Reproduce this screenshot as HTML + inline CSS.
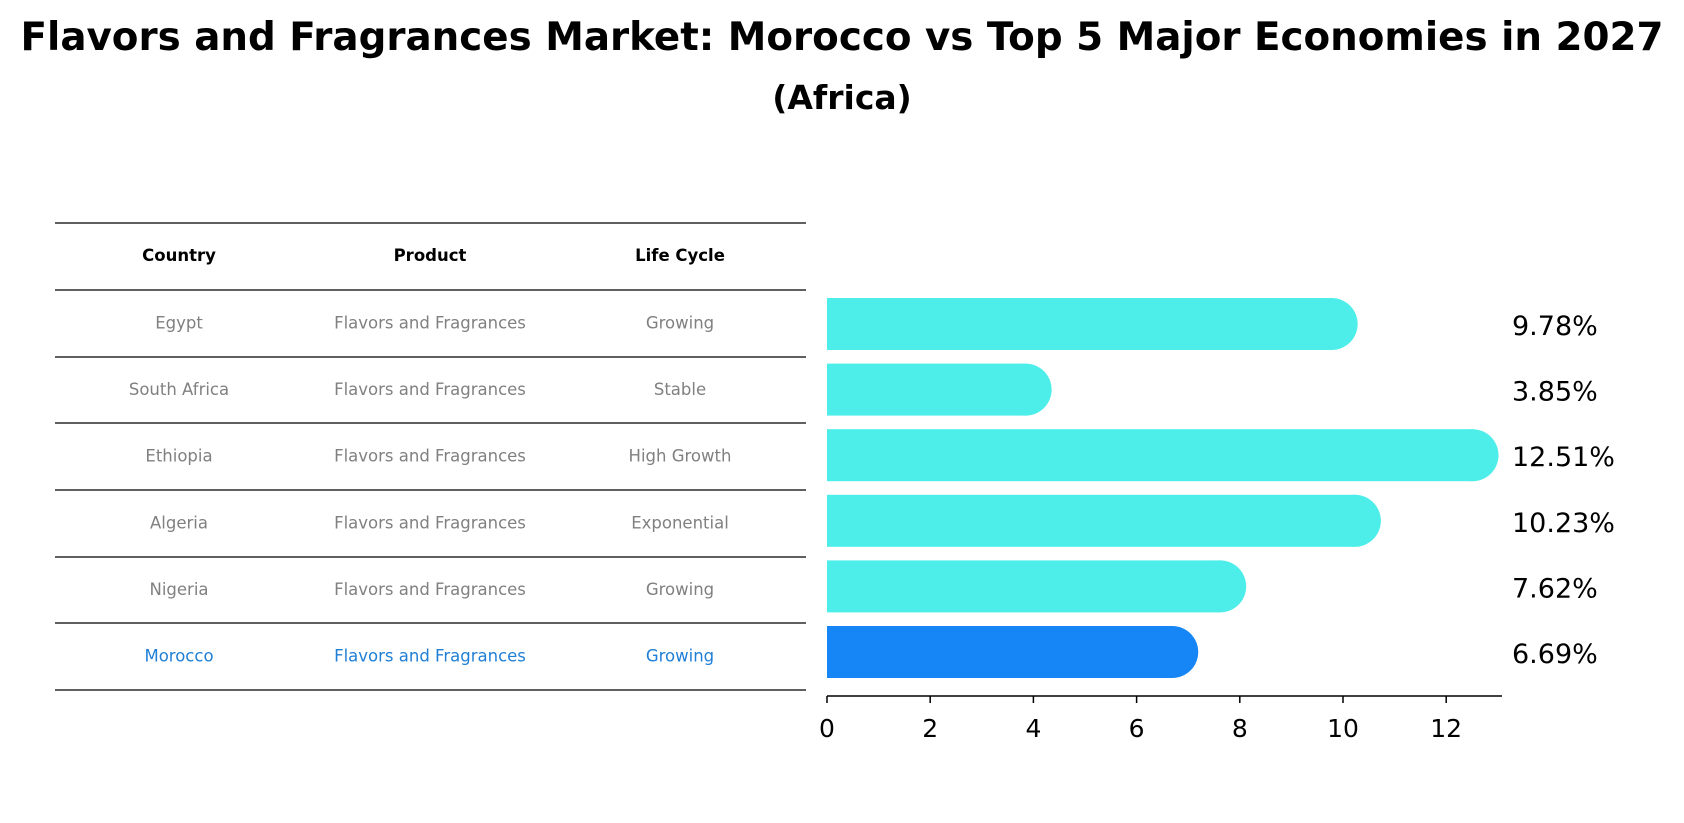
<!DOCTYPE html>
<html><head><meta charset="utf-8"><style>
body{margin:0;background:#fff;font-family:"DejaVu Sans","Liberation Sans",sans-serif;}
#root{position:relative;width:1684px;height:823px;overflow:hidden;}
</style></head><body>
<div id="root">
<svg id="svg" width="1684" height="823">
<text x="842" y="50" text-anchor="middle" font-size="38.8" font-weight="bold">Flavors and Fragrances Market: Morocco vs Top 5 Major Economies in 2027</text>
<text x="842" y="109" text-anchor="middle" font-size="33" font-weight="bold">(Africa)</text>
<g id="table"></g>
<g id="bars"></g>
</svg>
</div>
<script>
const countries=["Egypt","South Africa","Ethiopia","Algeria","Nigeria","Morocco"];
const products=["Flavors and Fragrances","Flavors and Fragrances","Flavors and Fragrances","Flavors and Fragrances","Flavors and Fragrances","Flavors and Fragrances"];
const lifecycles=["Growing","Stable","High Growth","Exponential","Growing","Growing"];
const values=[9.78,3.85,12.51,10.23,7.62,6.69];
const ticks=[0,2,4,6,8,10,12];
const NS="http://www.w3.org/2000/svg";
function mk(tag,attrs,parent){const e=document.createElementNS(NS,tag);for(const k in attrs)e.setAttribute(k,attrs[k]);parent.appendChild(e);return e;}
const tbl=document.getElementById('table');
const lineYs=[223,290,357,423,490,557,623,690];
const colX=[179,430,680];
lineYs.forEach((y,i)=>{const l=mk('line',{x1:55,x2:806,y1:y,y2:y,stroke:'#000','stroke-width':1.2},tbl);

});
["Country","Product","Life Cycle"].forEach((h,i)=>{const t=mk('text',{x:colX[i],y:261,'text-anchor':'middle','font-size':16.5,'font-weight':'bold'},tbl);t.textContent=h;

});
countries.forEach((c,r)=>{const y=(lineYs[r+1]+lineYs[r+2])/2+5;const col=r===countries.length-1?'#1f7fd6':'#808080';
[c,products[r],lifecycles[r]].forEach((v,i)=>{const t=mk('text',{x:colX[i],y:y,'text-anchor':'middle','font-size':16.5,fill:col},tbl);t.textContent=v;

});});
const g=document.getElementById('bars');
const x0=827,unit=51.6,axisY=696;
const xs=v=>x0+v*unit;
const rowC=i=>324+i*65.6;
const bh=52;
values.forEach((v,i)=>{const col=i===values.length-1?'#1685f5':'#4deeea';const cy=rowC(i);
const grp=mk('g',{},g);


mk('rect',{x:x0,y:cy-bh/2,width:xs(v)-x0,height:bh,fill:col},grp);
mk('circle',{cx:xs(v),cy:cy,r:bh/2,fill:col},grp);
const t=mk('text',{x:1512,y:cy+11,'font-size':27},g);t.textContent=v.toFixed(2)+'%';

});
const ax=mk('line',{x1:x0,x2:1502,y1:axisY,y2:axisY,stroke:'#000','stroke-width':1.5},g);


ticks.forEach(v=>{mk('line',{x1:xs(v),x2:xs(v),y1:axisY,y2:axisY+7,stroke:'#000','stroke-width':1.5},g);
const t=mk('text',{x:xs(v),y:737,'text-anchor':'middle','font-size':25},g);t.textContent=v;

});
</script>
</body></html>
